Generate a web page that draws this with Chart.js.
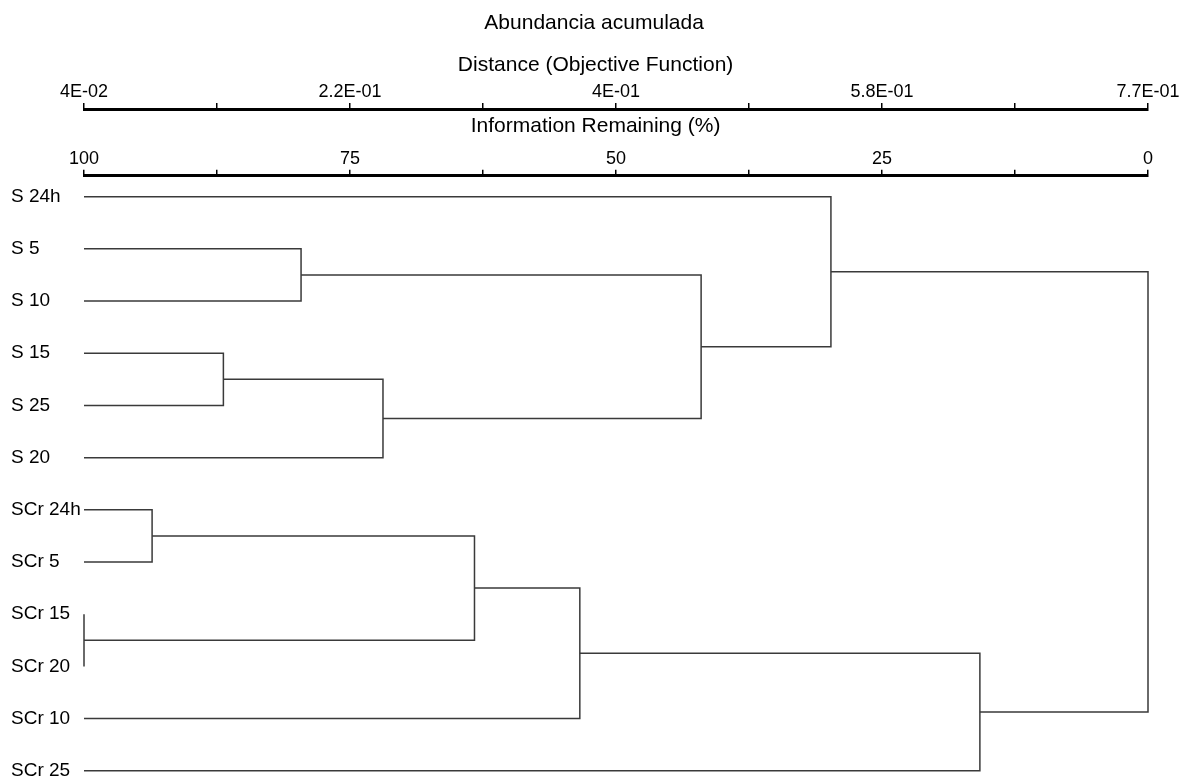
<!DOCTYPE html>
<html><head><meta charset="utf-8">
<script src="https://cdn.jsdelivr.net/npm/chart.js@4/dist/chart.umd.min.js"></script>
<style>html,body{margin:0;padding:0;background:#fff;} #wrap{width:1183px;height:778px;}</style>
</head><body><div id="wrap"><canvas id="c" width="1183" height="778"></canvas></div>
<script>
const chartTitle = 'Abundancia acumulada';
const distanceTitle = 'Distance (Objective Function)';
const infoTitle = 'Information Remaining (%)';
const leaves = ['S 24h','S 5','S 10','S 15','S 25','S 20','SCr 24h','SCr 5','SCr 15','SCr 20','SCr 10','SCr 25'];
const tickPositions = [100, 87.5, 75, 62.5, 50, 37.5, 25, 12.5, 0];
const infoTickLabels = ['100','','75','','50','','25','','0'];
const distanceTickLabels = ['4E-02','','2.2E-01','','4E-01','','5.8E-01','','7.7E-01'];
// merges: node ids 0..11 are leaves, merge k creates node 12+k
const mergeLeft   = [1, 3, 13, 12, 0, 6, 8, 17, 19, 20, 16];
const mergeRight  = [2, 4, 5, 14, 15, 7, 9, 18, 10, 11, 21];
const mergeHeight = [79.6, 86.9, 71.9, 42.0, 29.8, 93.6, 100, 63.3, 53.4, 15.8, 0];

const FONT = "'Liberation Sans', Arial, sans-serif";
// spacing used only to nudge the centred titles horizontally
const padL = n => ' '.repeat(n);
const nodeRow = leaves.map((_, i) => i);
const nodeHeight = leaves.map(() => 100);
const datasets = [];
mergeLeft.forEach((l, k) => {
  const r = mergeRight[k], h = mergeHeight[k];
  datasets.push({
    data: [
      {x: nodeHeight[l], y: nodeRow[l]},
      {x: h, y: nodeRow[l]},
      {x: h, y: nodeRow[r]},
      {x: nodeHeight[r], y: nodeRow[r]}
    ],
    showLine: true, pointRadius: 0, borderColor: '#3a3a3a', borderWidth: 1.5,
    clip: false, xAxisID: 'info', yAxisID: 'y'
  });
  nodeRow.push((nodeRow[l] + nodeRow[r]) / 2);
  nodeHeight.push(h);
});

function topAxis(labels, title, weight, tpad) {
  return {
    type: 'linear', position: 'top', axis: 'x', weight: weight,
    min: 0, max: 100, reverse: true,
    afterBuildTicks: s => { s.ticks = tickPositions.map(v => ({value: v})); },
    ticks: { autoSkip: false, maxRotation: 0, padding: 0, color: '#000',
      font: {family: FONT, size: 18},
      callback: v => labels[tickPositions.indexOf(v)] },
    grid: { drawOnChartArea: false, drawTicks: true, tickLength: 6, lineWidth: 1.5, color: '#000' },
    border: { display: true, width: 3, color: '#000' },
    title: { display: true, text: title + padL(7), color: '#000', font: {family: FONT, size: 21}, padding: tpad }
  };
}

new Chart(document.getElementById('c'), {
  type: 'scatter',
  data: { datasets },
  options: {
    responsive: false, animation: false,
    layout: { padding: {left: 11, right: 35, top: 0, bottom: 0} },
    plugins: {
      legend: {display: false}, tooltip: {enabled: false},
      title: { display: true, text: padL(5) + chartTitle, color: '#000', font: {family: FONT, size: 21, weight: 'normal'}, padding: {top: 11, bottom: 10} }
    },
    scales: {
      info: topAxis(infoTickLabels, infoTitle, 1, {top: 5, bottom: 9}),
      distance: topAxis(distanceTickLabels, distanceTitle, 2, {top: 6, bottom: 4}),
      y: {
        type: 'linear', position: 'left', reverse: true, min: -0.4, max: 11.12,
        afterBuildTicks: s => { s.ticks = leaves.map((_, i) => ({value: i})); },
        afterFit: s => { s.width = 73; },
        ticks: { autoSkip: false, crossAlign: 'far', padding: 0, color: '#000',
          font: {family: FONT, size: 19, lineHeight: 0.1},
          callback: v => leaves[v] },
        grid: {display: false}, border: {display: false}
      }
    }
  }
});
</script></body></html>
